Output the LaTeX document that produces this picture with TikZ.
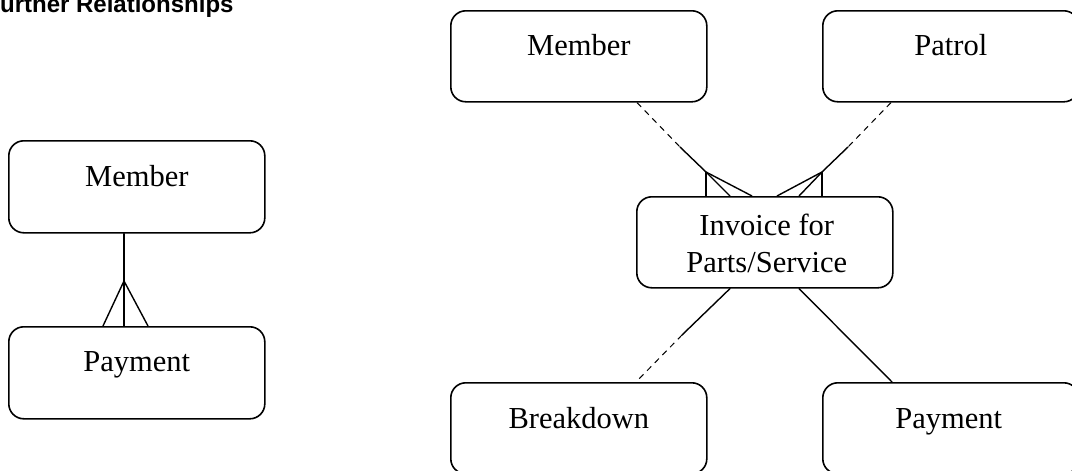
\documentclass[tikz,border=0pt]{standalone}
\usepackage{fontspec}
\setmainfont{Liberation Serif}
\newfontfamily\headfont{Liberation Sans}
\usetikzlibrary{calc}

\tikzset{
  entity/.style={draw, line width=1.6pt, rounded corners=15pt, inner sep=0pt,
                 minimum width=256pt, minimum height=91pt, anchor=north west},
  lbl/.style={anchor=base, inner sep=0pt, font=\fontsize{30.5}{37}\selectfont},
  rel/.style={line width=1.4pt, line cap=round, line join=round},
  opt/.style={line width=1pt, dash pattern=on 6pt off 5pt},
  foot/.style={line width=1.4pt}
}

\begin{document}
\begin{tikzpicture}[x=1pt, y=-1pt]
  % page frame
  \clip (0,0) rectangle (1072,471);
  \fill[white] (0,0) rectangle (1072,471);

  % heading
  \node[anchor=base west, inner sep=0pt, font=\headfont\bfseries\fontsize{24}{28}\selectfont]
    (head) at (-14.7,12.5) {Further Relationships};

  % ---- left: Member / Payment ----
  \node[entity, minimum height=92pt] (memL) at (8,140) {};
  \node[entity, minimum height=92pt] (payL) at (8,326) {};
  \node[lbl] (memLt) at ($(memL.north)+(0,46)$) {Member};
  \node[lbl] (payLt) at ($(payL.north)+(0,45)$) {Payment};

  \coordinate (lTop)  at ($(memL.south west)+(116,0)$);
  \coordinate (lApex) at ($(payL.north west)+(116,-45)$);
  \coordinate (lEnd)  at ($(payL.north west)+(116,0)$);
  \coordinate (lP1)   at ($(payL.north west)+(95,0)$);
  \coordinate (lP2)   at ($(payL.north west)+(140,0)$);
  \draw[rel] (lTop) -- (lEnd);
  \draw[foot] (lP1) -- (lApex) -- (lP2);

  % ---- right: invoice and its neighbours ----
  \node[entity] (memR) at (450,10) {};
  \node[entity] (pat)  at (822,10) {};
  \node[entity] (inv)  at (636,196) {};
  \node[entity] (brk)  at (450,382) {};
  \node[entity] (pay)  at (822,382) {};

  \node[lbl] (memRt) at ($(memR.north)+(0,46)$) {Member};
  \node[lbl] (patt)  at ($(pat.north)+(0,46)$) {Patrol};
  \node[lbl] (invt1) at ($(inv.north)+(2,39)$) {Invoice for};
  \node[lbl] (invt2) at ($(inv.north)+(2,76)$) {Parts/Service};
  \node[lbl] (brkt)  at ($(brk.north)+(0,46)$) {Breakdown};
  \node[lbl] (payt)  at ($(pay.north)+(-2,46)$) {Payment};

  % Member -- Invoice (optional at member end, many at invoice end)
  \coordinate (mS)  at ($(memR.south west)+(187,0)$);
  \coordinate (mM)  at (680,147);
  \coordinate (mA)  at (706,172);
  \draw[opt] (mS) -- (mM);
  \draw[rel] (mM) -- (mA);
  \draw[foot] (mA) -- ($(inv.north west)+(70,0)$);
  \draw[foot] (mA) -- ($(inv.north west)+(94,0)$);
  \draw[foot] (mA) -- ($(inv.north west)+(116,0)$);

  % Patrol -- Invoice
  \coordinate (pS)  at ($(pat.south west)+(69,0)$);
  \coordinate (pM)  at (848,147);
  \coordinate (pA)  at (822,172);
  \draw[opt] (pS) -- (pM);
  \draw[rel] (pM) -- (pA);
  \draw[foot] (pA) -- ($(inv.north west)+(186,0)$);
  \draw[foot] (pA) -- ($(inv.north west)+(163,0)$);
  \draw[foot] (pA) -- ($(inv.north west)+(141,0)$);

  % Invoice -- Breakdown
  \coordinate (bS) at ($(inv.south west)+(94,0)$);
  \coordinate (bM) at (682,335);
  \coordinate (bE) at ($(brk.north west)+(186,0)$);
  \draw[rel] (bS) -- (bM);
  \draw[opt] (bM) -- (bE);

  % Invoice -- Payment
  \draw[rel] ($(inv.south west)+(163,0)$) -- ($(pay.north west)+(70,0)$);
\end{tikzpicture}
\end{document}
